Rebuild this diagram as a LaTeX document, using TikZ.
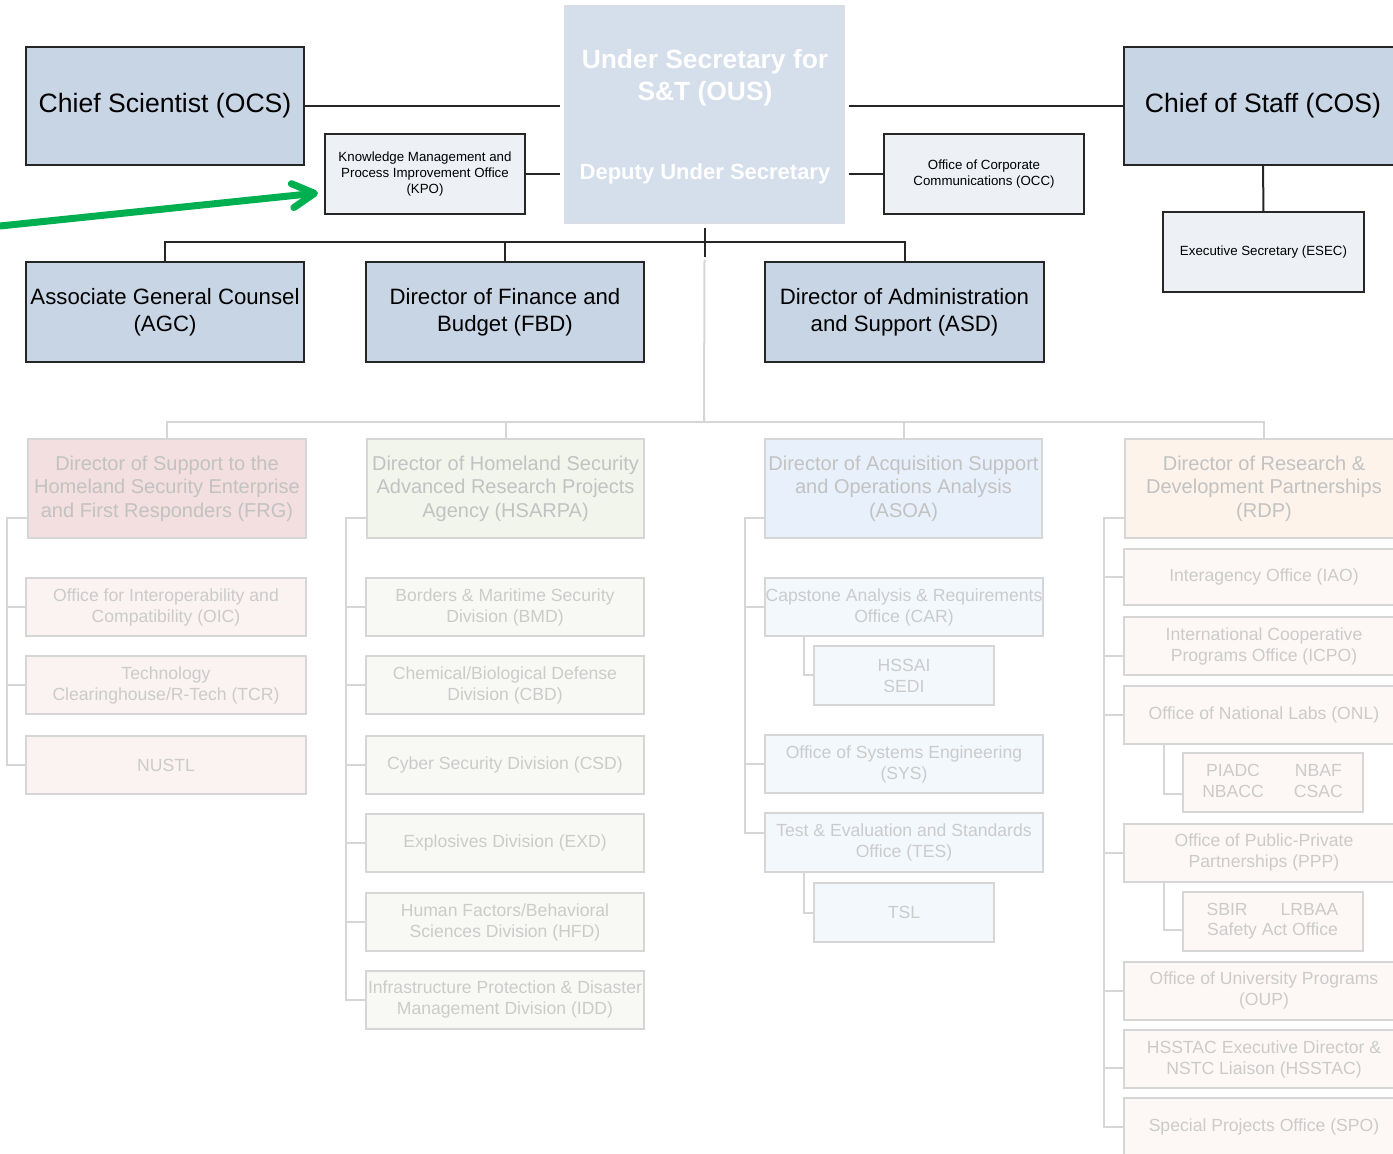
\documentclass[tikz,border=0pt]{standalone}
\usepackage{fontspec}
\setmainfont{Liberation Sans}
\usepackage{tikz}
\usetikzlibrary{arrows.meta}

\definecolor{linedark}{HTML}{262626}
\definecolor{linelight}{HTML}{D6D6D6}
\definecolor{boxblue}{HTML}{C8D5E5}
\definecolor{ousblue}{HTML}{D5DEEB}
\definecolor{ousedge}{HTML}{D9DEE6}
\definecolor{aidefill}{HTML}{EDF0F5}
\definecolor{frghead}{HTML}{F3DFDF}
\definecolor{frgsub}{HTML}{FAF3F2}
\definecolor{hsahead}{HTML}{F2F5EC}
\definecolor{hsasub}{HTML}{F8F9F5}
\definecolor{asohead}{HTML}{E8F1FB}
\definecolor{asosub}{HTML}{F3F8FD}
\definecolor{rdphead}{HTML}{FDF3EB}
\definecolor{rdpsub}{HTML}{FDF8F6}
\definecolor{headtext}{HTML}{C2C2C2}
\definecolor{subtext}{HTML}{CBCBCB}
\definecolor{arrowgreen}{HTML}{00B050}

\begin{document}
\begin{tikzpicture}[x=0.5pt,y=-0.5pt,
  dark line/.style={draw=linedark,line width=1pt},
  light line/.style={draw=linelight,line width=1pt},
  top node/.style={rectangle,draw=linedark,line width=1pt,fill=boxblue,inner sep=0pt,outer sep=0pt,
    align=center,minimum width=139pt,minimum height=59pt,font=\fontsize{13.3}{16}\selectfont},
  dir node/.style={top node,minimum height=50pt,font=\fontsize{11.1}{13.5}\selectfont},
  aide node/.style={rectangle,draw=linedark,line width=1pt,fill=aidefill,inner sep=0pt,outer sep=0pt,
    align=center,minimum width=100pt,minimum height=40pt,font=\fontsize{6.65}{8}\selectfont},
  ous node/.style={rectangle,draw=ousedge,line width=1pt,fill=ousblue,inner sep=0pt,outer sep=0pt,
    minimum width=139.5pt,minimum height=108.5pt},
  ous text/.style={text=white,align=center,inner sep=0pt,font=\bfseries\fontsize{13.2}{16}\selectfont},
  head node/.style={rectangle,draw=linelight,line width=1pt,inner sep=0pt,outer sep=0pt,align=center,
    minimum width=139pt,minimum height=49.5pt,text=headtext,font=\fontsize{10}{11.75}\selectfont},
  sub node/.style={rectangle,draw=linelight,line width=1pt,inner sep=0pt,outer sep=0pt,align=center,
    minimum width=140pt,minimum height=29pt,text=subtext,font=\fontsize{8.8}{10.5}\selectfont},
  lab node/.style={sub node,minimum width=90pt,minimum height=29.5pt},
  green arrow/.style={draw=arrowgreen,line width=3.5pt,line cap=round,
    -{Straight Barb[length=11pt,width=12pt,round]}}]

  \path[use as bounding box] (0,0) rectangle (1393,1154);
  \clip (0,0) rectangle (1393,1154);

  % top level
  \node[ous node] (ous) at (704.5,114.5) {};
  \node[ous text] (ous title) at (705,78) {Under Secretary for\\S\&T (OUS)};
  \node[ous text,font=\bfseries\fontsize{11}{13}\selectfont] (ous deputy) at (705,174) {Deputy Under Secretary};
  \node[top node] (ocs) at (165,106) {Chief Scientist (OCS)};
  \node[top node] (cos) at (1263,106) {Chief of Staff (COS)};
  \node[aide node] (kpo) at (425,174) {Knowledge Management and\\Process Improvement Office\\(KPO)};
  \node[aide node] (occ) at (984,174) {Office of Corporate\\Communications (OCC)};
  \node[aide node,minimum width=100.5pt] (esec) at (1263.5,252) {Executive Secretary (ESEC)};

  \node[dir node] (agc) at (165,312) {Associate General Counsel\\(AGC)};
  \node[dir node] (fbd) at (505,312) {Director of Finance and\\Budget (FBD)};
  \node[dir node,minimum width=139.5pt] (asd) at (904.5,312) {Director of Administration\\and Support (ASD)};

  % column heads
  \node[head node,fill=frghead] (frg) at (167,488.5) {Director of Support to the\\Homeland Security Enterprise\\and First Responders (FRG)};
  \node[head node,fill=hsahead,minimum width=138.5pt] (hsarpa) at (505.5,488.5) {Director of Homeland Security\\Advanced Research Projects\\Agency (HSARPA)};
  \node[head node,fill=asohead,minimum width=138.5pt] (asoa) at (903.5,488.5) {Director of Acquisition Support\\and Operations Analysis\\(ASOA)};
  \node[head node,fill=rdphead] (rdp) at (1264,488.5) {Director of Research \&\\Development Partnerships\\(RDP)};

  % FRG offices
  \node[sub node,fill=frgsub] (oic) at (166,607.5) {Office for Interoperability and\\Compatibility (OIC)};
  \node[sub node,fill=frgsub] (tcr) at (166,685.5) {Technology\\Clearinghouse/R-Tech (TCR)};
  \node[sub node,fill=frgsub] (nustl) at (166,765) {NUSTL};

  % HSARPA divisions
  \node[sub node,fill=hsasub,minimum width=139pt] (bmd) at (505,607.5) {Borders \& Maritime Security\\Division (BMD)};
  \node[sub node,fill=hsasub,minimum width=139pt] (cbd) at (505,685.5) {Chemical/Biological Defense\\Division (CBD)};
  \node[sub node,fill=hsasub,minimum width=139pt] (csd) at (505,765) {Cyber Security Division (CSD)};
  \node[sub node,fill=hsasub,minimum width=139pt] (exd) at (505,843) {Explosives Division (EXD)};
  \node[sub node,fill=hsasub,minimum width=139pt] (hfd) at (505,922) {Human Factors/Behavioral\\Sciences Division (HFD)};
  \node[sub node,fill=hsasub,minimum width=139pt] (idd) at (505,999.5) {Infrastructure Protection \& Disaster\\Management Division (IDD)};

  % ASOA offices
  \node[sub node,fill=asosub,minimum width=139pt] (car) at (904,607) {Capstone Analysis \& Requirements\\Office (CAR)};
  \node[lab node,fill=asosub] (hssai) at (904,675.5) {HSSAI\\SEDI};
  \node[sub node,fill=asosub,minimum width=139pt] (sys) at (904,764) {Office of Systems Engineering\\(SYS)};
  \node[sub node,fill=asosub,minimum width=139pt] (tes) at (904,842.5) {Test \& Evaluation and Standards\\Office (TES)};
  \node[lab node,fill=asosub] (tsl) at (904,912.5) {TSL};

  % RDP offices
  \node[sub node,fill=rdpsub,minimum height=28pt] (iao) at (1264,577) {Interagency Office (IAO)};
  \node[sub node,fill=rdpsub] (icpo) at (1264,646.5) {International Cooperative\\Programs Office (ICPO)};
  \node[sub node,fill=rdpsub] (onl) at (1264,715) {Office of National Labs (ONL)};
  \node[lab node,fill=rdpsub] (labs) at (1272.5,782.5)
    {\begin{tabular}{@{}c@{\hspace{15pt}}c@{}}PIADC & NBAF\\NBACC & CSAC\end{tabular}};
  \node[sub node,fill=rdpsub] (ppp) at (1264,852.5) {Office of Public-Private\\Partnerships (PPP)};
  \node[lab node,fill=rdpsub,font=\fontsize{8.8}{9.8}\selectfont] (sbir) at (1272.5,921)
    {SBIR\hspace{16.5pt}LRBAA\\Safety Act Office};
  \node[sub node,fill=rdpsub] (oup) at (1264,990.5) {Office of University Programs\\(OUP)};
  \node[sub node,fill=rdpsub] (hsstac) at (1264,1059) {HSSTAC Executive Director \&\\NSTC Liaison (HSSTAC)};
  \node[sub node,fill=rdpsub] (spo) at (1264,1127) {Special Projects Office (SPO)};

  \coordinate (dark bus) at (704,242);
  \coordinate (light bus) at (704,422);
  \coordinate (frg bus) at (7,518);
  \coordinate (hsarpa bus) at (346,518);
  \coordinate (asoa bus) at (745,518);
  \coordinate (rdp bus) at (1104,518);
  \coordinate (arrow tail) at (0,226);

  % front office
  \path[dark line,shorten >=2.5pt]
    (ocs.east) edge (ocs.east -| ous.west)
    (cos.west) edge (cos.west -| ous.east)
    (kpo.east) edge (kpo.east -| ous.west)
    (occ.west) edge (occ.west -| ous.east);
  \draw[dark line] (cos.south) -- (esec.north);
  \draw[dark line] ([yshift=-2.5pt]ous.south) -- ([yshift=-17pt]ous.south);
  \draw[dark line] (agc.north) |- (dark bus) -| (asd.north);
  \draw[dark line] (fbd.north) -- (fbd.north |- dark bus);

  % technical directorates
  \draw[light line] ([yshift=-18.5pt]ous.south) -- (light bus);
  \draw[light line] (frg.north) |- (light bus) -| (rdp.north);
  \draw[light line] (hsarpa.north) -- (hsarpa.north |- light bus);
  \draw[light line] (asoa.north) -- (asoa.north |- light bus);

  \draw[light line] (frg.west |- frg bus) -- (frg bus) |- (nustl.west);
  \path[light line]
    (frg bus |- oic.west) edge (oic.west)
    (frg bus |- tcr.west) edge (tcr.west);

  \draw[light line] (hsarpa.west |- hsarpa bus) -- (hsarpa bus) |- (idd.west);
  \path[light line]
    (hsarpa bus |- bmd.west) edge (bmd.west)
    (hsarpa bus |- cbd.west) edge (cbd.west)
    (hsarpa bus |- csd.west) edge (csd.west)
    (hsarpa bus |- exd.west) edge (exd.west)
    (hsarpa bus |- hfd.west) edge (hfd.west);

  \draw[light line] (asoa.west |- asoa bus) -- (asoa bus) |- ([yshift=5pt]tes.west);
  \path[light line]
    (asoa bus |- car.west) edge (car.west)
    (asoa bus |- sys.west) edge (sys.west);
  \draw[light line] ([xshift=-5pt]hssai.west |- car.south) |- (hssai.west);
  \draw[light line] ([xshift=-5pt]tsl.west |- tes.south) |- (tsl.west);

  \draw[light line] (rdp.west |- rdp bus) -- (rdp bus) |- (spo.west);
  \path[light line]
    (rdp bus |- iao.west) edge (iao.west)
    ([yshift=-4.75pt]rdp bus |- icpo.west) edge ([yshift=-4.75pt]icpo.west)
    (rdp bus |- onl.west) edge (onl.west)
    (rdp bus |- ppp.west) edge (ppp.west)
    (rdp bus |- oup.west) edge (oup.west)
    ([yshift=-4.5pt]rdp bus |- hsstac.west) edge ([yshift=-4.5pt]hsstac.west);
  \draw[light line] ([xshift=-9.5pt]labs.west |- onl.south) |- ([yshift=-5.75pt]labs.west);
  \draw[light line] ([xshift=-9.5pt]sbir.west |- ppp.south) |- ([yshift=-4.5pt]sbir.west);

  % pointer to KPO
  \draw[green arrow] (arrow tail) -- ([xshift=-3.5pt,yshift=-9.5pt]kpo.west);
\end{tikzpicture}
\end{document}
